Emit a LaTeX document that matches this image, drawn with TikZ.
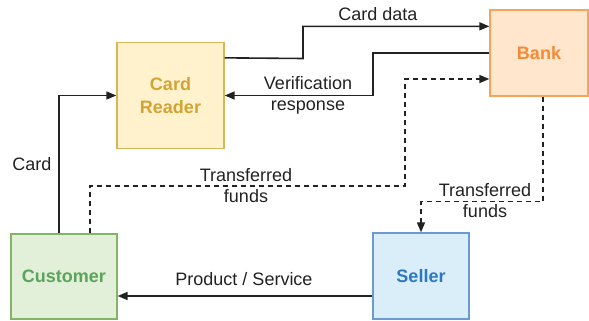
\documentclass[tikz,border=0pt]{standalone}
\usepackage{fontspec}
\setmainfont{Liberation Sans}
\usetikzlibrary{arrows.meta,calc}
\definecolor{crfill}{HTML}{FFF2CC}
\definecolor{crdraw}{HTML}{D6B656}
\definecolor{crtext}{HTML}{D2A435}
\definecolor{bkfill}{HTML}{FFE6CC}
\definecolor{bkdraw}{HTML}{F5A55A}
\definecolor{bktext}{HTML}{F58A35}
\definecolor{cufill}{HTML}{E2EFD9}
\definecolor{cudraw}{HTML}{82B366}
\definecolor{cutext}{HTML}{5AA55A}
\definecolor{sefill}{HTML}{DAEEF9}
\definecolor{sedraw}{HTML}{6C9BD2}
\definecolor{setext}{HTML}{2D78C2}
\definecolor{ln}{HTML}{222222}
\tikzset{
  box/.style={draw, line width=1.3pt, inner sep=0pt, align=center,
    font=\fontsize{18}{23}\selectfont\bfseries},
  conn/.style={draw=ln, line width=1.6pt, -{Triangle[length=10pt,width=8pt]}},
  dconn/.style={conn, dash pattern=on 5pt off 4pt},
  lbl/.style={inner sep=0pt, align=center, text=ln, font=\fontsize{18}{21}\selectfont},
}
\begin{document}
\begin{tikzpicture}[x=1pt,y=-1pt]
\useasboundingbox (0,0) rectangle (589,321);
\node[box, fill=crfill, draw=crdraw, text=crtext, minimum width=107pt, minimum height=106pt] (CR) at (170.5,95.5) {Card\\Reader};
\node[box, fill=bkfill, draw=bkdraw, text=bktext, minimum width=98pt, minimum height=86pt] (Bank) at (539,53) {Bank};
\node[box, fill=cufill, draw=cudraw, text=cutext, minimum width=106pt, minimum height=85pt] (Cust) at (64,276.5) {Customer};
\node[box, fill=sefill, draw=sedraw, text=setext, minimum width=96pt, minimum height=86pt] (Sell) at (421,276) {Seller};

\draw[conn] ($(CR.north east)+(0,16)$) -- (303,58.5) |- ($(Bank.north west)+(0,17)$);
\draw[conn] (Bank.west) -- (373,53) |- (CR.east);
\draw[conn] ($(Cust.north)+(-5,0)$) |- (CR.west);
\draw[dconn] ($(Cust.north)+(26,0)$) |- (405,186) |- ($(Bank.west)+(0,26)$);
\draw[dconn] ($(Bank.south)+(4,0)$) |- ($(Sell.north)+(0,-31)$) -- (Sell.north);
\draw[conn] ($(Sell.west)+(0,20)$) -- ($(Cust.east)+(0,19.5)$);

\node[lbl, anchor=base] (l1) at (378,20.5) {Card data};
\node[lbl] (l2) at (308,95.5) {Verification\\response};
\node[lbl, anchor=base] (l3) at (32,170) {Card};
\node[lbl] (l4) at (246,186) {Transferred\\funds};
\node[lbl] (l5) at (485,201) {Transferred\\funds};
\node[lbl, anchor=base] (l6) at (244,285) {Product / Service};
\end{tikzpicture}
\end{document}
